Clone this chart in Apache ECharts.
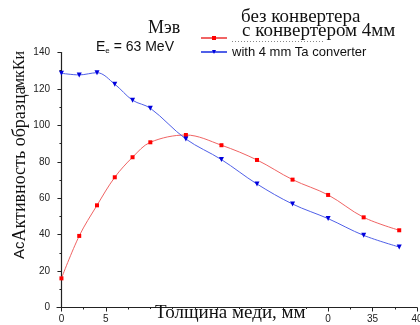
<!DOCTYPE html>
<html>
<head>
<meta charset="utf-8">
<script src="https://cdn.jsdelivr.net/npm/echarts@6/dist/echarts.min.js"></script>
<style>html,body{margin:0;padding:0;background:#fff}#c{width:420px;height:325px}</style>
</head>
<body>
<div id="c"></div>
<script>
const thickness = [0, 2, 4, 6, 8, 10, 14, 18, 22, 26, 30, 34, 38];
const withoutConverter = [16.0, 39.3, 56.1, 71.5, 82.5, 90.7, 94.7, 89.1, 81.0, 70.2, 61.8, 49.5, 42.4];
const withConverter = [128.6, 127.7, 128.9, 122.6, 113.8, 109.4, 92.5, 81.2, 67.8, 56.8, 48.8, 39.6, 33.2];
const xMajorTicks = [0, 5, 10, 15, 20, 25, 30, 35, 40];
const xMinorTicks = [2.5, 7.5, 12.5, 17.5, 22.5, 27.5, 32.5, 37.5];
const xLabelValues = [0, 5, 30, 35, 40];
const xLabelTexts = ['0', '5', '0', '35', '40'];
const seriesNames = ['without converter', 'with 4 mm Ta converter'];

const chart = echarts.init(document.getElementById('c'), null, {renderer: 'canvas'});
const sans = 'Liberation Sans';
const serif = 'Liberation Serif';
const axisCol = '#222';

chart.setOption({
  animation: false,
  backgroundColor: '#fff',
  grid: {left: 57, top: 52.5, width: 360, height: 255, containLabel: false, outerBoundsMode: 'none'},
  legend: {
    orient: 'vertical', left: 200, top: 31, padding: 0, itemGap: 0,
    itemWidth: 26, itemHeight: 5,
    data: seriesNames,
    formatter: n => (n === seriesNames[1] ? n : ' '),
    textStyle: {fontFamily: sans, fontSize: 13, lineHeight: 14, color: '#111'}
  },
  xAxis: [{
    type: 'value', min: -0.5, max: 40,
    axisLine: {lineStyle: {color: axisCol, width: 1.2}},
    axisTick: {customValues: xMajorTicks, length: 4, lineStyle: {color: axisCol}},
    axisLabel: {customValues: xLabelValues, margin: 7, fontFamily: sans, fontSize: 10, color: axisCol,
      formatter: v => xLabelTexts[xLabelValues.indexOf(v)]},
    splitLine: {show: false}
  }, {
    type: 'value', min: -0.5, max: 40, position: 'bottom',
    axisLine: {show: false},
    axisTick: {customValues: xMinorTicks, length: 2, lineStyle: {color: axisCol}},
    axisLabel: {show: false},
    splitLine: {show: false}
  }],
  yAxis: {
    type: 'value', min: 0, max: 140, interval: 20,
    axisLine: {show: true, lineStyle: {color: axisCol, width: 1.2}},
    axisTick: {show: true, length: 4, lineStyle: {color: axisCol}},
    minorTick: {show: true, splitNumber: 2, length: 2, lineStyle: {color: axisCol}},
    axisLabel: {margin: 7, fontFamily: sans, fontSize: 10, color: axisCol},
    splitLine: {show: false}
  },
  series: [{
    name: seriesNames[0], type: 'line', smooth: 0.35,
    data: thickness.map((x, i) => [x, withoutConverter[i]]),
    symbol: 'rect', symbolSize: 4,
    itemStyle: {color: '#ff0000'},
    lineStyle: {color: '#f06464', width: 1}
  }, {
    name: seriesNames[1], type: 'line', smooth: 0.35,
    data: thickness.map((x, i) => [x, withConverter[i]]),
    symbol: 'triangle', symbolSize: 5, symbolRotate: 180,
    itemStyle: {color: '#0000dd'},
    lineStyle: {color: '#5060e8', width: 1}
  }],
  graphic: [
    {type: 'text', z: 60, x: 148, y: 28,
     style: {text: 'Мэв', font: '18px "Liberation Serif"', fill: '#111', verticalAlign: 'middle'}},
    {type: 'text', z: 60, x: 96, y: 47,
     style: {text: '{a|E}{s|e}{a| = 63 MeV}', verticalAlign: 'middle', fill: '#111',
       rich: {a: {fontFamily: sans, fontSize: 14, fill: '#111'},
              s: {fontFamily: sans, fontSize: 8, fill: '#111', padding: [8, 0, 0, 0]}}}},
    {type: 'text', z: 60, x: 241, y: 17,
     style: {text: 'без конвертера', font: '19px "Liberation Serif"', fill: '#111', verticalAlign: 'middle'}},
    {type: 'text', z: 60, x: 242, y: 31,
     style: {text: 'с конвертером 4мм', font: '19px "Liberation Serif"', fill: '#111', verticalAlign: 'middle'}},
    {type: 'line', z: 61, shape: {x1: 232, y1: 41.5, x2: 325, y2: 41.5},
     style: {stroke: '#888', lineWidth: 1, lineDash: [1, 2]}},
    {type: 'rect', z: 55, shape: {x: 140, y: 309, width: 176, height: 16}, style: {fill: '#fff'}},
    {type: 'text', z: 60, x: 155, y: 313,
     style: {text: 'Толщина меди, мм', font: '19px "Liberation Serif"', fill: '#111', verticalAlign: 'middle'}},
    {type: 'text', z: 60, x: 20, y: 259, rotation: Math.PI / 2,
     style: {text: '{a|Ас}{b|Активность образца}', verticalAlign: 'middle', fill: '#111',
       rich: {a: {fontFamily: sans, fontSize: 15, fill: '#111'},
              b: {fontFamily: serif, fontSize: 18, fill: '#111'}}}},
    {type: 'text', z: 60, x: 20, y: 88, rotation: Math.PI / 2,
     style: {text: 'мкКи', font: '16px "Liberation Serif"', fill: '#111', verticalAlign: 'middle'}}
  ]
});
</script>
</body>
</html>
